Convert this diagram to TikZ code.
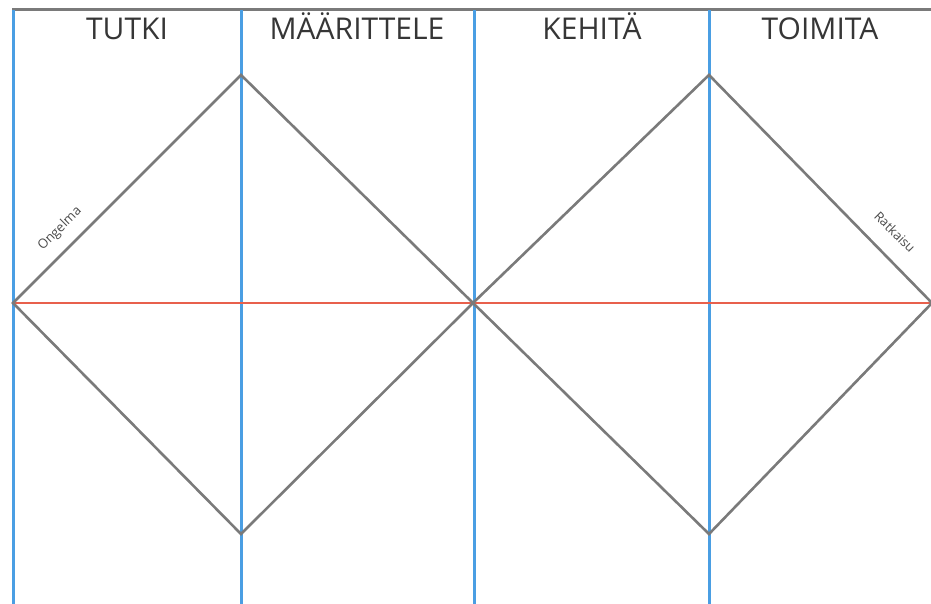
\documentclass[tikz,border=0pt]{standalone}
\usepackage{fontspec}
\setmainfont{Open Sans}
\usepackage{tikz}
\usetikzlibrary{calc, positioning}

\definecolor{phaseblue}{HTML}{4A9EE3}
\definecolor{axisred}{HTML}{E8604C}
\definecolor{edgegray}{HTML}{7A7A7A}
\definecolor{labelgray}{HTML}{363636}

\begin{document}
\begin{tikzpicture}[x=1pt,y=1pt,
    divider/.style={phaseblue, line width=3pt},
    diamond edge/.style={edgegray, line width=2.6pt, line join=miter},
    phase/.style={labelgray, font=\fontsize{30}{30}\selectfont, anchor=base},
    tag/.style={labelgray!90, font=\fontsize{13}{13}\selectfont}]
        \useasboundingbox (0,0) rectangle (931,604);

        % 1. Coordinate Definitions
        \coordinate (TopL) at (12,594);
        \coordinate (TopR) at (935,594);
        \coordinate (L1) at (13,301);
        \coordinate (T1) at (241,529);
        \coordinate (M) at (473,301);
        \coordinate (B1) at (241,70);
        \coordinate (T2) at (709,529);
        \coordinate (R2) at (932,301);
        \coordinate (B2) at (709,70);

        % 2. Top gray border
        \draw[edgegray, line width=3pt] (TopL) -- (TopR);

        % 3. Blue phase dividers
        \foreach \xx/\nm in {13/V1, 241/V2, 474/V3, 709/V4}{
            \draw[divider] (\xx,594) coordinate (\nm top) -- (\xx,0) coordinate (\nm bot);
        }

        % 4. Red horizontal axis
        \draw[axisred, line width=2.8pt] (L1) -- (R2);

        % 5. Two diamonds
        \draw[diamond edge] (L1) -- (T1) -- (M) -- (B1) -- cycle;
        \draw[diamond edge] (M) -- (T2) -- (R2) -- (B2) -- cycle;

        % 6. Phase labels
        \node[phase] (tutki) at (127,564) {TUTKI};
        \node[phase] (maarittele) at (357,564) {MÄÄRITTELE};
        \node[phase] (kehita) at (592,564) {KEHITÄ};
        \node[phase] (toimita) at (820,564) {TOIMITA};

        % 7. Small labels along the edges
        \node[tag, rotate=45, inner sep=1pt] (ongelma) at (60,375) {Ongelma};
        \node[tag, rotate=-45, inner sep=1pt] (ratkaisu) at (895,372) {Ratkaisu};
    \end{tikzpicture}
\end{document}
